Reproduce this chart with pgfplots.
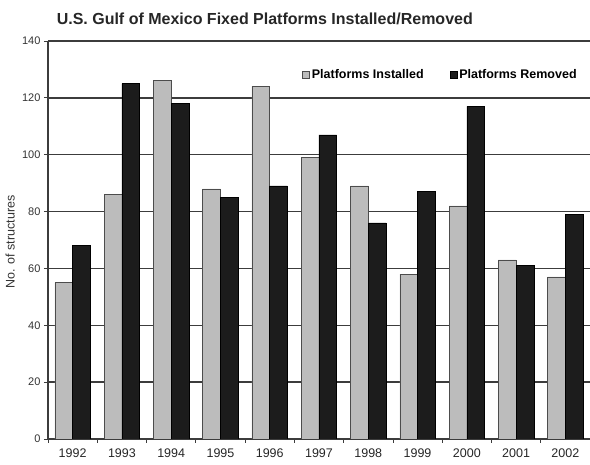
\documentclass[border=0pt]{standalone}
\usepackage{pgfplots}
\pgfplotsset{compat=1.18}
\usepackage{fontspec}
\setmainfont{Liberation Sans}

\definecolor{instgray}{RGB}{188,188,188}
\definecolor{remdark}{RGB}{28,28,28}
\definecolor{gridgray}{RGB}{60,60,60}

% annual counts, 1992-2002
\pgfplotstableread{
x year installed removed
0  1992  55  68
1  1993  86  125
2  1994  126 118
3  1995  88  85
4  1996  124 89
5  1997  99  107
6  1998  89  76
7  1999  58  87
8  2000  82  117
9  2001  63  61
10 2002  57  79
}\platforms

\begin{document}
\begin{tikzpicture}
\useasboundingbox (-48pt,-26pt) rectangle (542pt,439pt);
\begin{axis}[
  scale only axis,
  width=542pt, height=398pt,
  xmin=-0.5, xmax=10.5,
  ymin=0, ymax=140,
  ytick={0,20,...,140},
  xtick=data,
  xticklabels={1992,1993,1994,1995,1996,1997,1998,1999,2000,2001,2002},
  minor xtick={-0.5,0.5,...,10.5},
  major x tick style={draw=none},
  minor x tick style={draw=gridgray, line width=0.8pt},
  minor tick length=4pt,
  major tick length=4pt,
  tick align=outside,
  y tick style={draw=gridgray, line width=0.8pt},
  axis x line*=bottom,
  axis y line*=left,
  axis line style={draw=gridgray, line width=1.2pt, -},
  ymajorgrids,
  grid style={draw=gridgray, line width=1.3pt},
  ybar,
  bar width=0.36,
  /pgf/number format/assume math mode=true,
  yticklabel style={font=\fontsize{11}{12}\selectfont, text=black!80},
  xticklabel style={font=\fontsize{12.5}{14}\selectfont, text=black!85, yshift=-2pt},
  title={U.S. Gulf of Mexico Fixed Platforms Installed/Removed},
  title style={at={(0.40,1)}, anchor=base, yshift=10pt,
    font=\fontsize{16}{18}\selectfont\bfseries, text=black!85},
  ylabel={No. of structures},
  every axis y label/.style={at={(axis description cs:-0.070,0.495)}, rotate=90,
    anchor=center, font=\fontsize{12.5}{14}\selectfont, text=black!80},
  legend columns=2,
  legend style={at={(0.985,0.916)}, anchor=east, draw=none, fill=none,
    font=\fontsize{12.5}{14}\selectfont\bfseries,
    /tikz/every even column/.append style={column sep=24pt}},
  legend image code/.code={\draw[#1, line width=0.6pt] (0pt,-3.5pt) rectangle (7pt,3.5pt);},
]
\addplot[fill=instgray, draw=black!70, line width=0.6pt, bar shift=-0.18]
  table[x=x, y=installed] {\platforms};
\addplot[fill=remdark, draw=black, line width=0.6pt, bar shift=0.18]
  table[x=x, y=removed] {\platforms};
\legend{Platforms Installed, Platforms Removed}
\end{axis}
\end{tikzpicture}
\end{document}
